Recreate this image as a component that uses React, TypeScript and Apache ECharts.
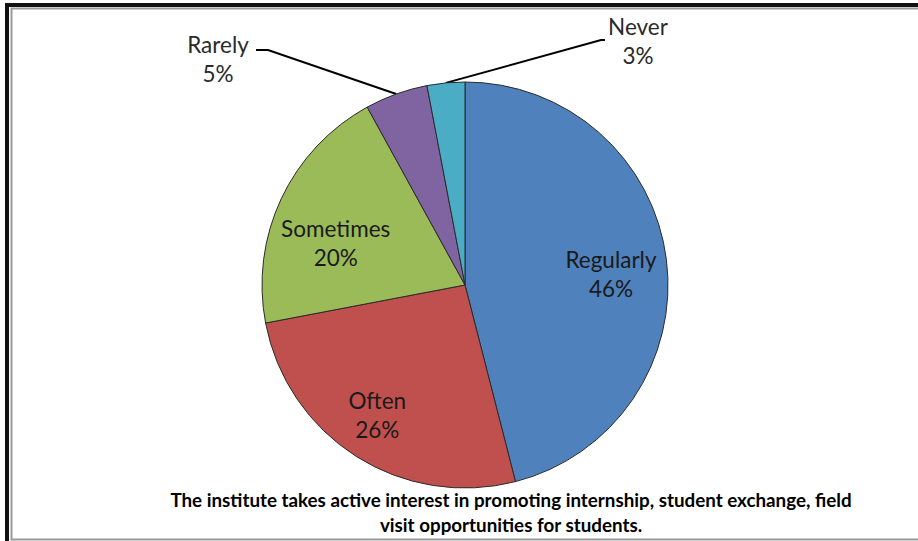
import React, { useEffect, useRef } from "react";
import * as echarts from "echarts";

const categories = ["Regularly", "Often", "Sometimes", "Rarely", "Never"];
const percents = [46, 26, 20, 5, 3];
const sliceColors = ["#4F81BD", "#C0504D", "#9BBB59", "#8064A2", "#4BACC6"];
const titleLines = [
  "The institute takes active interest in promoting internship, student exchange, field",
  "visit opportunities for students.",
];
const outsideLabelled = ["Rarely", "Never"];

const CX = 465;
const CY = 285;
const R = 203;
const FONT = "Lato, 'Liberation Sans', sans-serif";

// layout tweaks (not data)
const innerNudge: Record<number, [number, number]> = {
  0: [2, 7],
  1: [-10, 7],
  2: [2, 20],
};
const outerLabelLayout: Record<
  number,
  { x: number; y: number; elbow: [number, number]; end: [number, number] }
> = {
  3: { x: 218, y: 59, elbow: [268, 50], end: [256, 50] },
  4: { x: 638, y: 41, elbow: [601, 40], end: [605, 40] },
};

export default function App() {
  const ref = useRef<HTMLDivElement>(null);
  useEffect(() => {
    if (!ref.current) return;
    const chart = echarts.init(ref.current, undefined, { renderer: "svg" });
    const labelText = {
      fontFamily: FONT,
      fontSize: 22.5,
      lineHeight: 29,
      color: "#1a1a1a",
    };
    const mainData = categories.map((name, i) => {
      const outside = outsideLabelled.includes(name);
      return {
        name,
        value: percents[i],
        itemStyle: { color: sliceColors[i] },
        label: { show: outside },
        labelLine: { show: outside },
      };
    });
    const overlayData = categories.map((name, i) => ({
      name,
      value: percents[i],
      label: { show: !outsideLabelled.includes(name) },
    }));
    chart.setOption({
      animation: false,
      backgroundColor: "#ffffff",
      title: {
        text: titleLines.join("\n"),
        left: 511,
        top: 487,
        textAlign: "center",
        padding: 0,
        textStyle: {
          fontFamily: FONT,
          fontSize: 18.8,
          fontWeight: "bold",
          lineHeight: 25,
          color: "#000",
        },
      },
      graphic: [
        {
          type: "rect",
          shape: { x: 7, y: 5, width: 1000, height: 700 },
          style: { fill: "none", stroke: "#111", lineWidth: 4 },
          silent: true,
        },
        {
          type: "rect",
          shape: { x: 11.5, y: 8.5, width: 1000, height: 531 },
          style: { fill: "none", stroke: "#9a9a9a", lineWidth: 2 },
          silent: true,
        },
      ],
      series: [
        {
          type: "pie",
          center: [CX, CY],
          radius: [0, R],
          startAngle: 90,
          clockwise: true,
          avoidLabelOverlap: false,
          silent: true,
          itemStyle: { borderColor: "#2b2b2b", borderWidth: 1 },
          label: {
            position: "outside",
            formatter: "{b}\n{c}%",
            align: "center",
            ...labelText,
            color: "#2a2a2a",
          },
          labelLine: {
            length: 20,
            length2: 10,
            lineStyle: { color: "#000", width: 2 },
          },
          labelLayout: (params: any) => {
            const o = outerLabelLayout[params.dataIndex];
            if (!o) return {};
            const pts = params.labelLinePoints;
            const anchor = pts && pts[0] ? pts[0] : [o.elbow[0], o.elbow[1]];
            return {
              x: o.x,
              y: o.y,
              align: "center",
              verticalAlign: "middle",
              labelLinePoints: [anchor, o.elbow, o.end],
            };
          },
          data: mainData,
        },
        {
          type: "pie",
          center: [CX, CY],
          radius: [0, R * 1.4],
          startAngle: 90,
          clockwise: true,
          avoidLabelOverlap: false,
          silent: true,
          itemStyle: { color: "rgba(0,0,0,0)", borderWidth: 0 },
          label: {
            position: "inside",
            formatter: "{b}\n{c}%",
            align: "center",
            ...labelText,
          },
          labelLine: { show: false },
          labelLayout: (params: any) => {
            const n = innerNudge[params.dataIndex];
            if (!n) return {};
            return { dx: n[0], dy: n[1] };
          },
          data: overlayData,
        },
      ],
    });
    return () => chart.dispose();
  }, []);
  return (
    <div
      ref={ref}
      style={{
        position: "absolute",
        left: 0,
        top: 0,
        width: 918,
        height: 541,
        background: "#fff",
      }}
    />
  );
}
